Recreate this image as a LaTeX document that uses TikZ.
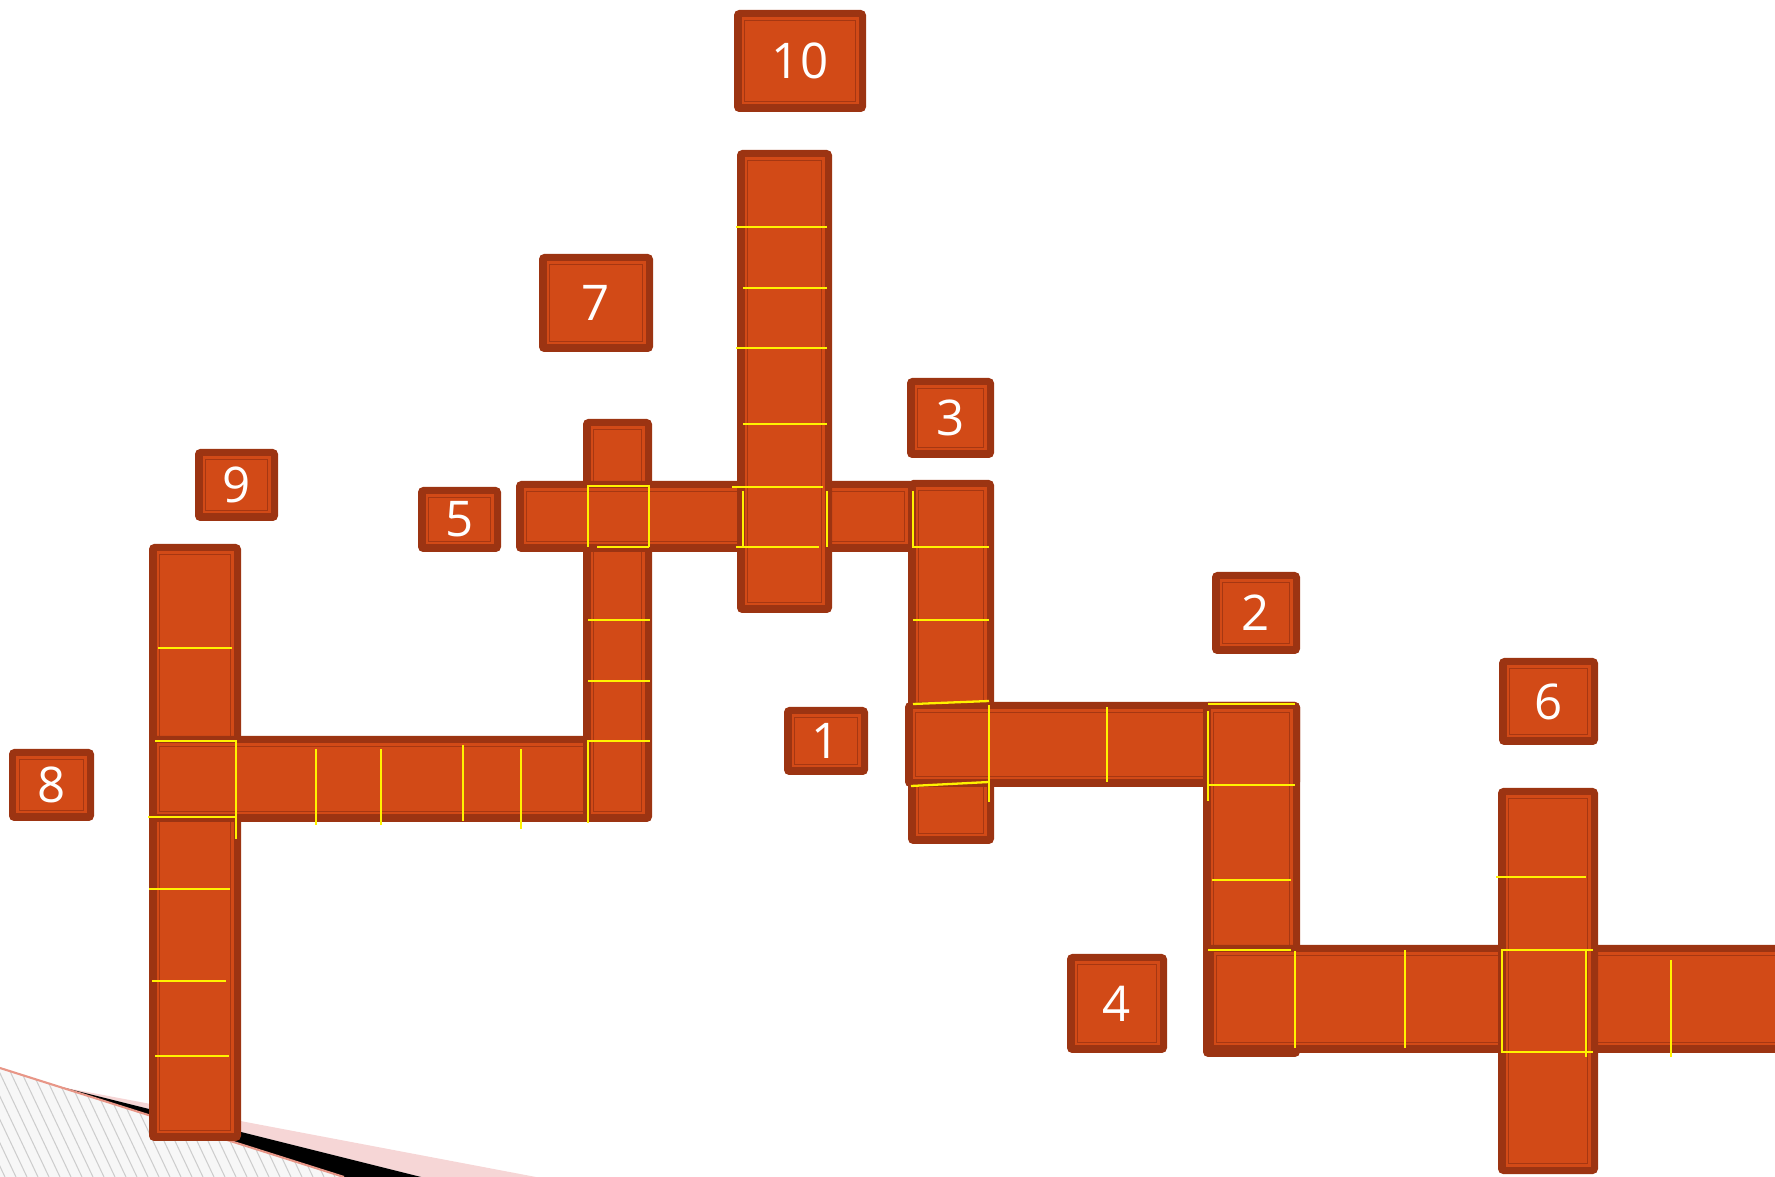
\documentclass[tikz,border=0pt]{standalone}
\usepackage{fontspec}
\setmainfont{Open Sans}
\definecolor{cwdark}{RGB}{156,52,18}
\definecolor{cworange}{RGB}{210,74,23}
\definecolor{cwline}{RGB}{166,55,18}
\definecolor{cwyellow}{RGB}{255,242,0}
\definecolor{pinkband}{RGB}{246,214,214}
\definecolor{pinkline}{RGB}{232,150,135}
\definecolor{hatchgrey}{RGB}{205,205,205}
\newcommand\cwrect[5]{%
  \fill[cwdark, rounded corners=0.5mm] (#2,#3) rectangle (#4,#5);
  \fill[cworange] (#2+7.5,#3+7.5) rectangle (#4-7.5,#5-7.5);
  \draw[cwline, line width=0.55pt] (#2+10.5,#3+10.5) rectangle (#4-10.5,#5-10.5);
  \coordinate (#1) at ({(#2+#4)/2},{(#3+#5)/2});
}
\begin{document}
\begin{tikzpicture}[x=0.1mm,y=-0.1mm,
  yl/.style={cwyellow, line width=0.65pt},
  numtxt/.style={text=white, font=\fontsize{14}{14}\selectfont, inner sep=0pt}]
\useasboundingbox (0,0) rectangle (1775,1177);
% background decoration
\begin{scope}
  \clip (0,1068) -- (344,1177) -- (0,1177) -- cycle;
  \fill[white!97!black] (0,1040) rectangle (400,1177);
  \foreach \i in {-20,...,40} \draw[hatchgrey, line width=0.3pt] (\i*11,1050) -- (\i*11+60,1177);
\end{scope}
\fill[pinkband] (61,1087) -- (536,1177) -- (421,1177) -- cycle;
\fill[black] (61,1087) -- (421,1177) -- (344,1177) -- cycle;
\draw[pinkline, line width=0.6pt] (0,1068) -- (344,1177);
% bars
\cwrect{c9}{149}{544}{241}{1141}
\cwrect{r8}{149}{736}{648}{822}
\cwrect{c7}{583}{419}{652}{822}
\cwrect{r5}{516}{481}{915}{552}
\cwrect{c10}{737}{150}{832}{613}
\cwrect{c3}{908}{480}{994}{844}
\cwrect{r1}{905}{702}{1300}{787}
\cwrect{c2}{1203}{702}{1300}{1057}
\cwrect{r4}{1206}{945}{1800}{1053}
\cwrect{c6}{1498}{788}{1598}{1174}
% number boxes
\cwrect{b10}{734}{10}{866}{112}
\cwrect{b7}{539}{254}{653}{352}
\cwrect{b3}{907}{378}{994}{458}
\cwrect{b9}{195}{449}{278}{521}
\cwrect{b5}{418}{487}{501}{552}
\cwrect{b2}{1212}{572}{1300}{654}
\cwrect{b6}{1499}{658}{1598}{745}
\cwrect{b1}{784}{707}{868}{775}
\cwrect{b8}{9}{749}{94}{821}
\cwrect{b4}{1067}{954}{1167}{1053}
\node[numtxt] (n10) at (b10) {10};
\node[numtxt] (n7) at (b7) {7};
\node[numtxt] (n3) at (b3) {3};
\node[numtxt] (n9) at (b9) {9};
\node[numtxt] (n5) at (b5) {5};
\node[numtxt] (n2) at (b2) {2};
\node[numtxt] (n6) at (b6) {6};
\node[numtxt] (n1) at (b1) {1};
\node[numtxt] (n8) at (b8) {8};
\node[numtxt] (n4) at (b4) {4};
% yellow grid lines
\draw[yl] (736,227) -- (827,227);
\draw[yl] (743,288) -- (827,288);
\draw[yl] (736,348) -- (827,348);
\draw[yl] (743,424) -- (827,424);
\draw[yl] (732,487) -- (823,487);
\draw[yl] (736,547) -- (819,547);
\draw[yl] (743,491) -- (743,547);
\draw[yl] (827,491) -- (827,547);
\draw[yl] (588,547) -- (588,486) -- (649,486) -- (649,547);
\draw[yl] (597,547) -- (649,547);
\draw[yl] (588,620) -- (650,620);
\draw[yl] (588,681) -- (650,681);
\draw[yl] (588,823) -- (588,741) -- (650,741);
\draw[yl] (316,749) -- (316,825);
\draw[yl] (381,749) -- (381,825);
\draw[yl] (463,745) -- (463,821);
\draw[yl] (521,749) -- (521,829);
\draw[yl] (155,741) -- (236,741) -- (236,839);
\draw[yl] (148,817) -- (236,817);
\draw[yl] (158,648) -- (232,648);
\draw[yl] (149,889) -- (230,889);
\draw[yl] (152,981) -- (226,981);
\draw[yl] (155,1056) -- (229,1056);
\draw[yl] (913,491) -- (913,547) -- (989,547);
\draw[yl] (913,620) -- (989,620);
\draw[yl] (913,704) -- (989,701);
\draw[yl] (989,705) -- (989,802);
\draw[yl] (911,786) -- (989,782);
\draw[yl] (1107,707) -- (1107,782);
\draw[yl] (1208,704) -- (1295,704);
\draw[yl] (1208,711) -- (1208,801);
\draw[yl] (1208,785) -- (1295,785);
\draw[yl] (1212,880) -- (1291,880);
\draw[yl] (1208,950) -- (1291,950);
\draw[yl] (1295,951) -- (1295,1048);
\draw[yl] (1405,950) -- (1405,1048);
\draw[yl] (1671,960) -- (1671,1057);
\draw[yl] (1496,877) -- (1586,877);
\draw[yl] (1593,950) -- (1502,950) -- (1502,1052) -- (1593,1052);
\draw[yl] (1586,950) -- (1586,1057);
\end{tikzpicture}
\end{document}
